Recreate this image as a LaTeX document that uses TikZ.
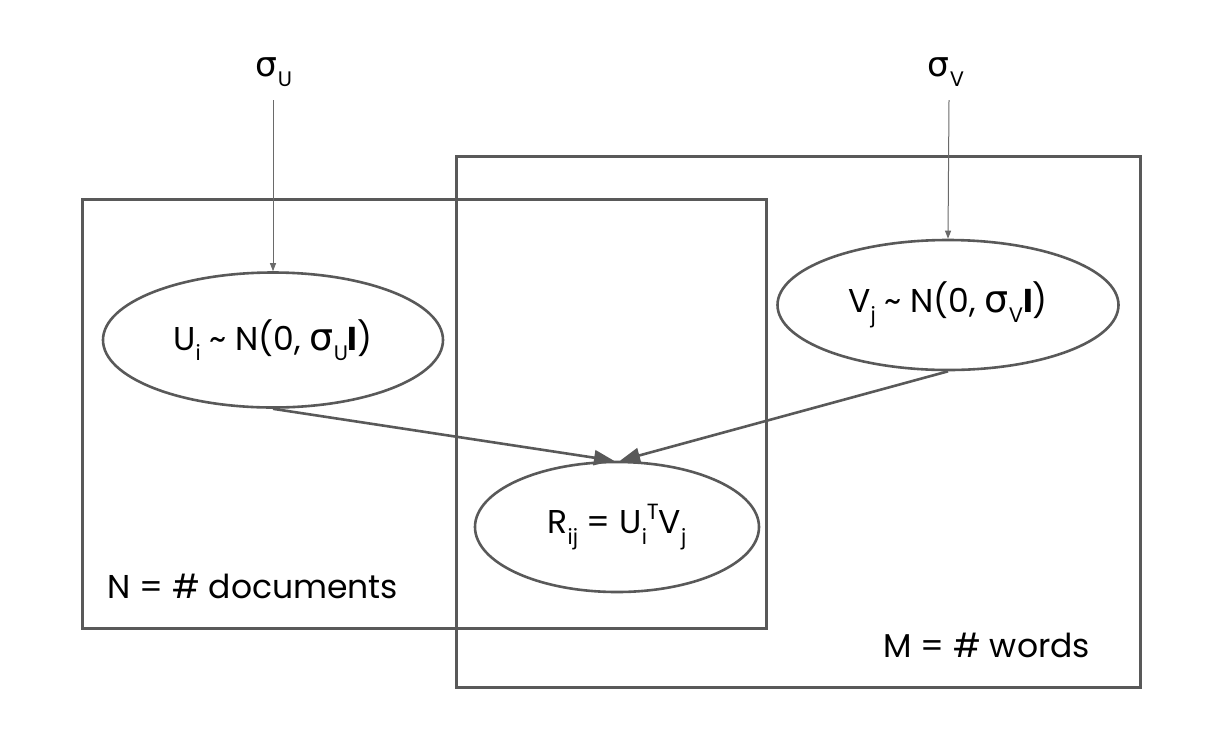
\documentclass[tikz,border=0pt]{standalone}
\usepackage{fontspec}
\setmainfont{Poppins}
\newfontfamily\gk[Scale=1.15]{DejaVu Sans}
\usetikzlibrary{arrows.meta,shapes.geometric}
\definecolor{ln}{HTML}{595959}
\newcommand\sg{{\gk σ}}
\newcommand\lo[1]{\raisebox{-0.32em}{\fontsize{21}{21}\selectfont #1}}
\newcommand\hi[1]{\raisebox{0.42em}{\fontsize{22}{22}\selectfont #1}}
\begin{document}
\begin{tikzpicture}[x=1pt,y=-1pt,
  every node/.style={font=\fontsize{30}{33}\selectfont, text=black},
  big/.style={font=\fontsize{33}{36}\selectfont},
  lab/.style={font=\fontsize{33}{36}\selectfont, anchor=base west},
  plate/.style={draw=ln, line width=2.6pt},
  ell/.style={ellipse, draw=ln, line width=2.6pt, inner sep=0pt, big},
  thick arr/.style={draw=ln, line width=2.6pt, -{Triangle[length=20pt,width=15pt]}},
  thin arr/.style={draw=ln!90, line width=1pt, -{Triangle[length=8pt,width=6pt]}}]
\useasboundingbox (0,0) rectangle (1220,748);
\node[plate, minimum width=684pt, minimum height=429pt, anchor=north west] (pN) at (81,198) {};
\node[plate, minimum width=684pt, minimum height=531pt, anchor=north west] (pM) at (455,155) {};
\node[lab] (lN) at (104,598) {N = \# documents};
\node[lab] (lM) at (880,657) {M = \# words};
\node (sU) at (274,72) {\sg\lo{U}};
\node (sV) at (946,72) {\sg\lo{V}};
\node[ell, minimum width=340pt, minimum height=135pt] (U) at (273,340) {U\lo{i} \textasciitilde{} N(0, \sg\lo{U}\textbf{I})};
\node[ell, minimum width=341pt, minimum height=130pt] (V) at (948,305) {V\lo{j} \textasciitilde{} N(0, \sg\lo{V}\textbf{I})};
\node[ell, minimum width=284pt, minimum height=130pt] (R) at (617,527) {R\lo{ij} = U\lo{i}\hi{T}V\lo{j}};
\draw[thin arr] (273,100) -- (U.north);
\draw[thin arr] (949,100) -- (V.north);
\draw[thick arr] (U.south) -- ([xshift=-3pt]R.north);
\draw[thick arr] (V.south) -- ([xshift=3pt]R.north);
\end{tikzpicture}
\end{document}
